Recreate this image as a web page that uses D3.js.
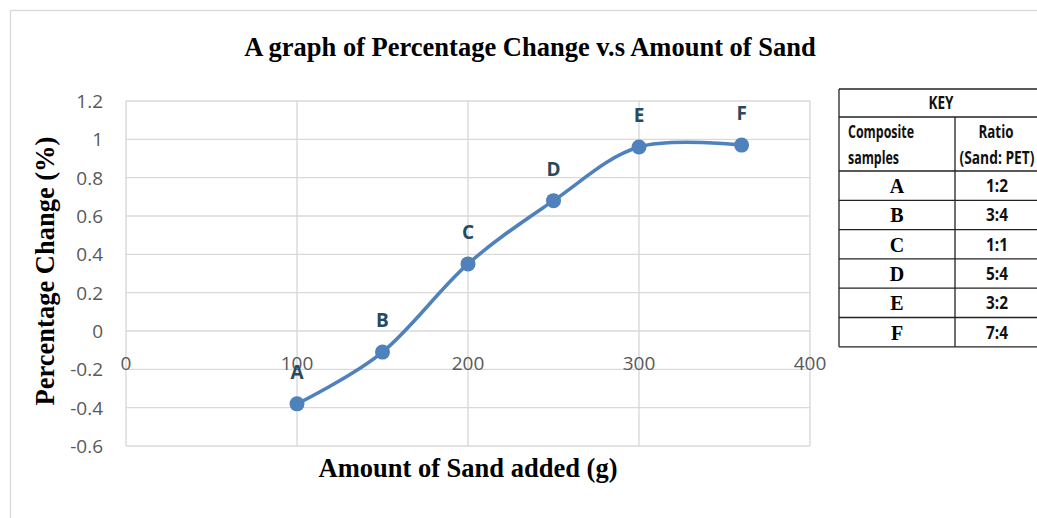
<!DOCTYPE html>
<html>
<head>
<meta charset="utf-8">
<script src="https://cdn.jsdelivr.net/npm/d3@7"></script>
<style>
  body { margin: 0; background: #fff; }
  svg { display: block; }
</style>
</head>
<body>
<svg id="chart"></svg>
<script>
// data
const samples = ['A', 'B', 'C', 'D', 'E', 'F'];
const sandAdded = [100, 150, 200, 250, 300, 360];
const pctChange = [-0.38, -0.11, 0.35, 0.68, 0.96, 0.97];
const ratios = ['1:2', '3:4', '1:1', '5:4', '3:2', '7:4'];
const xTicks = [0, 100, 200, 300, 400];
const yTicks = [-0.6, -0.4, -0.2, 0, 0.2, 0.4, 0.6, 0.8, 1, 1.2];

const W = 1037, H = 518;
const svg = d3.select('#chart').attr('width', W).attr('height', H);

// outer chart frame
svg.append('rect')
  .attr('x', 10.5).attr('y', 10.5)
  .attr('width', W + 10).attr('height', H + 10)
  .style('fill', 'none').style('stroke', '#d9d9d9').style('stroke-width', 1.3);

let x = d3.scaleLinear().domain([0, 400]).range([126, 810]);
let y = d3.scaleLinear().domain([-0.6, 1.2]).range([446, 101]);

// gridlines
svg.append('g').selectAll('line')
  .data(yTicks).enter().append('line')
  .attr('x1', x(0)).attr('x2', x(400))
  .attr('y1', d => y(d)).attr('y2', d => y(d))
  .style('stroke', '#d9d9d9').style('stroke-width', 1.4);

svg.append('g').selectAll('line')
  .data(xTicks).enter().append('line')
  .attr('x1', d => x(d)).attr('x2', d => x(d))
  .attr('y1', y(1.2)).attr('y2', y(-0.6))
  .style('stroke', '#d9d9d9').style('stroke-width', 1.4);

const tickFont = '"Open Sans", sans-serif';

// tick labels
svg.append('g').selectAll('text')
  .data(yTicks).enter().append('text')
  .attr('x', 103).attr('y', d => y(d) + 7)
  .attr('text-anchor', 'end')
  .style('font-family', tickFont)
  .style('font-size', '19px').style('fill', '#595959')
  .text(d => d3.format('')(d).replace('−', '-'));

svg.append('g').selectAll('text')
  .data(xTicks).enter().append('text')
  .attr('x', d => x(d)).attr('y', y(0) + 39)
  .attr('text-anchor', 'middle')
  .style('font-family', tickFont)
  .style('font-size', '19px').style('fill', '#595959')
  .text(d => d);

// smoothed line like Excel
let line = d3.line()
  .x(d => x(d[0]))
  .y(d => y(d[1]))
  .curve(d3.curveCardinal.tension(0));

const pts = sandAdded.map((s, i) => [s, pctChange[i], samples[i]]);

svg.append('path')
  .datum(pts)
  .attr('d', line)
  .style('fill', 'none').style('stroke', '#4f81bd').style('stroke-width', 3.5);

svg.append('g').selectAll('circle')
  .data(pts).enter().append('circle')
  .attr('cx', d => x(d[0])).attr('cy', d => y(d[1]))
  .attr('r', 7.5)
  .style('fill', '#4f81bd');

svg.append('g').selectAll('text')
  .data(pts).enter().append('text')
  .attr('x', d => x(d[0])).attr('y', d => y(d[1]) - 25)
  .attr('text-anchor', 'middle')
  .style('font-family', tickFont)
  .style('font-weight', 'bold').style('font-size', '19px').style('fill', '#264b5d')
  .text(d => d[2]);

// titles
const serif = '"Liberation Serif", "Times New Roman", serif';
svg.append('text')
  .attr('x', 530).attr('y', 56)
  .attr('text-anchor', 'middle')
  .style('font-family', serif).style('font-weight', 'bold').style('font-size', '26.5px')
  .text('A graph of Percentage Change v.s Amount of Sand');

svg.append('text')
  .attr('x', 468).attr('y', 477)
  .attr('text-anchor', 'middle')
  .style('font-family', serif).style('font-weight', 'bold').style('font-size', '26.5px')
  .text('Amount of Sand added (g)');

svg.append('text')
  .attr('transform', 'translate(54,271) rotate(-90)')
  .attr('text-anchor', 'middle')
  .style('font-family', serif).style('font-weight', 'bold').style('font-size', '26.5px')
  .text('Percentage Change (%)');

// key table
const tL = 839, tM = 955, tR = 1040;
const rowTops = [89, 117, 171];
const rowH = 29.3;
const tbl = svg.append('g');
const dataTop = rowTops[2];
const tBottom = dataTop + rowH * samples.length;

// horizontal rules
let hLines = rowTops.concat(samples.map((s, i) => dataTop + rowH * (i + 1)));
tbl.selectAll('line.h')
  .data(hLines).enter().append('line')
  .attr('x1', tL).attr('x2', tR)
  .attr('y1', d => d).attr('y2', d => d)
  .style('stroke', '#222').style('stroke-width', 1.3);

tbl.append('line').attr('x1', tL).attr('x2', tL).attr('y1', rowTops[0]).attr('y2', tBottom)
  .style('stroke', '#222').style('stroke-width', 1.3);
tbl.append('line').attr('x1', tM).attr('x2', tM).attr('y1', rowTops[1]).attr('y2', tBottom)
  .style('stroke', '#222').style('stroke-width', 1.3);

// narrow bold text, squeezed to the widths seen in the key
const sans = '"Liberation Sans Narrow", "Open Sans", sans-serif';
function cellText(tx, ty, txt, anchor, len) {
  tbl.append('text')
    .attr('x', tx).attr('y', ty)
    .attr('text-anchor', anchor)
    .attr('textLength', len).attr('lengthAdjust', 'spacingAndGlyphs')
    .style('font-family', sans).style('font-size', '17px').style('font-weight', 'bold')
    .style('fill', '#111')
    .text(txt);
}
cellText(941, 109, 'KEY', 'middle', 25);
cellText(848, 138, 'Composite', 'start', 66);
cellText(848, 164, 'samples', 'start', 51);
cellText(996, 138, 'Ratio', 'middle', 35);
cellText(997, 164, '(Sand: PET)', 'middle', 75);

tbl.selectAll('text.s')
  .data(samples).enter().append('text')
  .attr('x', (tL + tM) / 2).attr('y', (d, i) => dataTop + rowH * i + 22)
  .attr('text-anchor', 'middle')
  .style('font-family', serif).style('font-weight', 'bold').style('font-size', '20px')
  .text(d => d);

tbl.selectAll('text.r')
  .data(ratios).enter().append('text')
  .attr('x', 997).attr('y', (d, i) => dataTop + rowH * i + 21)
  .attr('text-anchor', 'middle')
  .attr('textLength', 22).attr('lengthAdjust', 'spacingAndGlyphs')
  .style('font-family', sans).style('font-weight', 'bold').style('font-size', '17px')
  .style('fill', '#111')
  .text(d => d);
</script>
</body>
</html>
